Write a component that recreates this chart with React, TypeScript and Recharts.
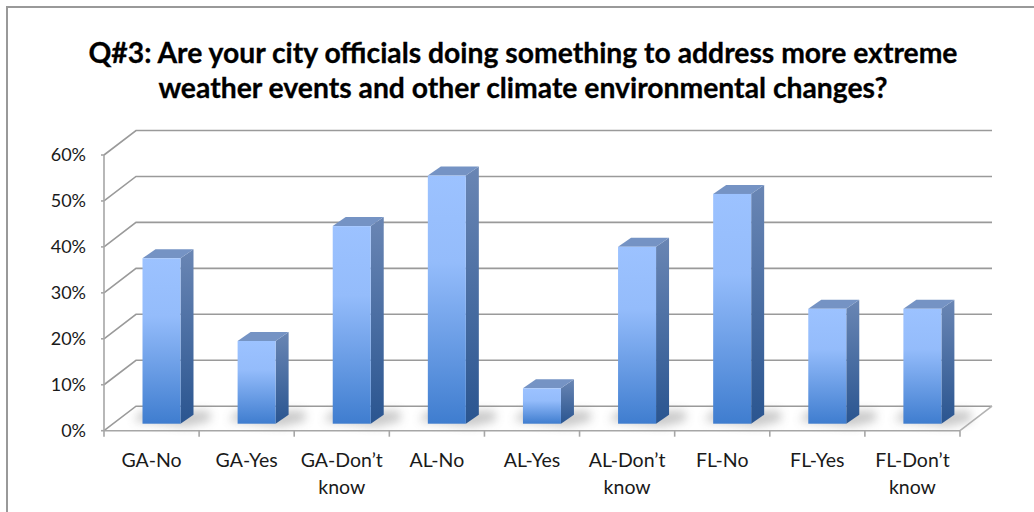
import { Bar, BarChart, CartesianGrid, XAxis, YAxis } from "recharts"

const categories = [
  "GA-No",
  "GA-Yes",
  "GA-Don’t know",
  "AL-No",
  "AL-Yes",
  "AL-Don’t know",
  "FL-No",
  "FL-Yes",
  "FL-Don’t know",
]
const shares = [36, 18, 43, 54, 7.7, 38.5, 50, 25, 25]
const yTicks = [0, 10, 20, 30, 40, 50, 60]
const titleLines = [
  "Q#3: Are your city officials doing something to address more extreme",
  "weather events and other climate environmental changes?",
]

const data = categories.map((name, i) => ({ name, share: shares[i] }))

const FONT = "Lato, 'Open Sans', sans-serif"
const AXIS_GRAY = "#a6a6a6"
const GRID_GRAY = "#9a9a9a"

// wall offset of the fake 3D box
const WALL_DX = 32
const WALL_DY = -24.5
// bars stand partway into the floor
const BAR_DX = 9.5
const BAR_DY = -7
const SIDE_DX = 13
const SIDE_DY = -9

function gridLine(props: any) {
  const { x1, x2, y1, index } = props
  const isFloor = y1 > 430
  return (
    <g key={index} fill="none" stroke={GRID_GRAY} strokeWidth={1.6}>
      <path d={`M${x1},${y1} L${x1 + WALL_DX},${y1 + WALL_DY} L${x2 + WALL_DX},${y1 + WALL_DY}`} />
      {isFloor && <path d={`M${x2 + WALL_DX},${y1 + WALL_DY} L${x2},${y1}`} stroke="#b3b3b3" />}
    </g>
  )
}

function Box3D(props: any) {
  const { x, y, width, height } = props
  const l = x + BAR_DX
  const r = l + width
  const t = y + BAR_DY
  const b = t + height
  return (
    <g>
      <path
        d={`M${l - 9},${b - 3} L${r + 6},${b + 3} L${r + 30},${b - 3} L${r + SIDE_DX + 16},${b - 13} L${l},${b - 13} Z`}
        fill="#888"
        opacity={0.45}
        filter="url(#floorBlur)"
      />
      <path
        d={`M${r},${t} L${r + SIDE_DX},${t + SIDE_DY} L${r + SIDE_DX},${b + SIDE_DY} L${r},${b} Z`}
        fill="url(#barSide)"
      />
      <path
        d={`M${l},${t} L${l + SIDE_DX},${t + SIDE_DY} L${r + SIDE_DX},${t + SIDE_DY} L${r},${t} Z`}
        fill="#7593c4"
      />
      <rect x={l} y={t} width={width} height={height} fill="url(#barFront)" />
    </g>
  )
}

function CategoryTick(props: any) {
  const { x, y, payload, index, width, visibleTicksCount } = props
  const band = width / visibleTicksCount
  const lines = String(payload.value).split(" ")
  const left = x - band / 2
  return (
    <g>
      <line x1={left} x2={left} y1={y} y2={y + 6} stroke={AXIS_GRAY} strokeWidth={1.6} />
      {index === visibleTicksCount - 1 && (
        <line x1={left + band} x2={left + band} y1={y} y2={y + 6} stroke={AXIS_GRAY} strokeWidth={1.6} />
      )}
      <text x={x} textAnchor="middle" fontFamily={FONT} fontSize={19.5} fill="#1a1a1a">
        {lines.map((line, i) => (
          <tspan key={line} x={x} y={y + 36 + i * 27}>
            {line}
          </tspan>
        ))}
      </text>
    </g>
  )
}

export default function App() {
  return (
    <div style={{ position: "absolute", left: 0, top: 0, width: 1034, height: 512, overflow: "hidden", background: "#fff" }}>
      <div
        style={{
          position: "absolute",
          left: 6,
          top: 6,
          width: 1040,
          height: 520,
          border: "2px solid #999",
          boxSizing: "border-box",
        }}
      />
      <BarChart
        width={1034}
        height={512}
        data={data}
        margin={{ top: 155, right: 74, bottom: 0, left: 0 }}
        barSize={38}
        style={{ position: "absolute", left: 0, top: 0 }}
      >
        <defs>
          <linearGradient id="barFront" x1="0" y1="0" x2="0" y2="1">
            <stop offset="0" stopColor="#9cc2ff" />
            <stop offset="0.35" stopColor="#94bcfb" />
            <stop offset="1" stopColor="#3f7dcf" />
          </linearGradient>
          <linearGradient id="barSide" x1="0" y1="0" x2="0" y2="1">
            <stop offset="0" stopColor="#6a86b4" />
            <stop offset="1" stopColor="#2a5590" />
          </linearGradient>
          <filter id="floorBlur" x="-30%" y="-100%" width="160%" height="300%">
            <feGaussianBlur stdDeviation="5" />
          </filter>
        </defs>
        <text
          textAnchor="middle"
          fontFamily={FONT}
          fontWeight={700}
          fontSize={28.3}
          fill="#000"
          stroke="#000"
          strokeWidth={0.3}
        >
          {titleLines.map((line, i) => (
            <tspan key={line} x={523} y={63 + i * 35}>
              {line}
            </tspan>
          ))}
        </text>
        <CartesianGrid horizontal={gridLine} vertical={false} syncWithTicks />
        <XAxis
          dataKey="name"
          axisLine={{ stroke: AXIS_GRAY, strokeWidth: 1.6 }}
          tickLine={false}
          tickSize={0}
          tickMargin={0}
          interval={0}
          tick={CategoryTick}
          height={81.3}
        />
        <YAxis
          width={104}
          domain={[0, 60]}
          ticks={yTicks}
          tickFormatter={(v) => `${v}%`}
          axisLine={{ stroke: AXIS_GRAY, strokeWidth: 1.6 }}
          tickLine={{ stroke: AXIS_GRAY, strokeWidth: 1.6 }}
          tickSize={3}
          tickMargin={15}
          tick={{ fontFamily: FONT, fontSize: 18, fill: "#1a1a1a" }}
        />
        <Bar dataKey="share" isAnimationActive={false} shape={Box3D} />
      </BarChart>
    </div>
  )
}
